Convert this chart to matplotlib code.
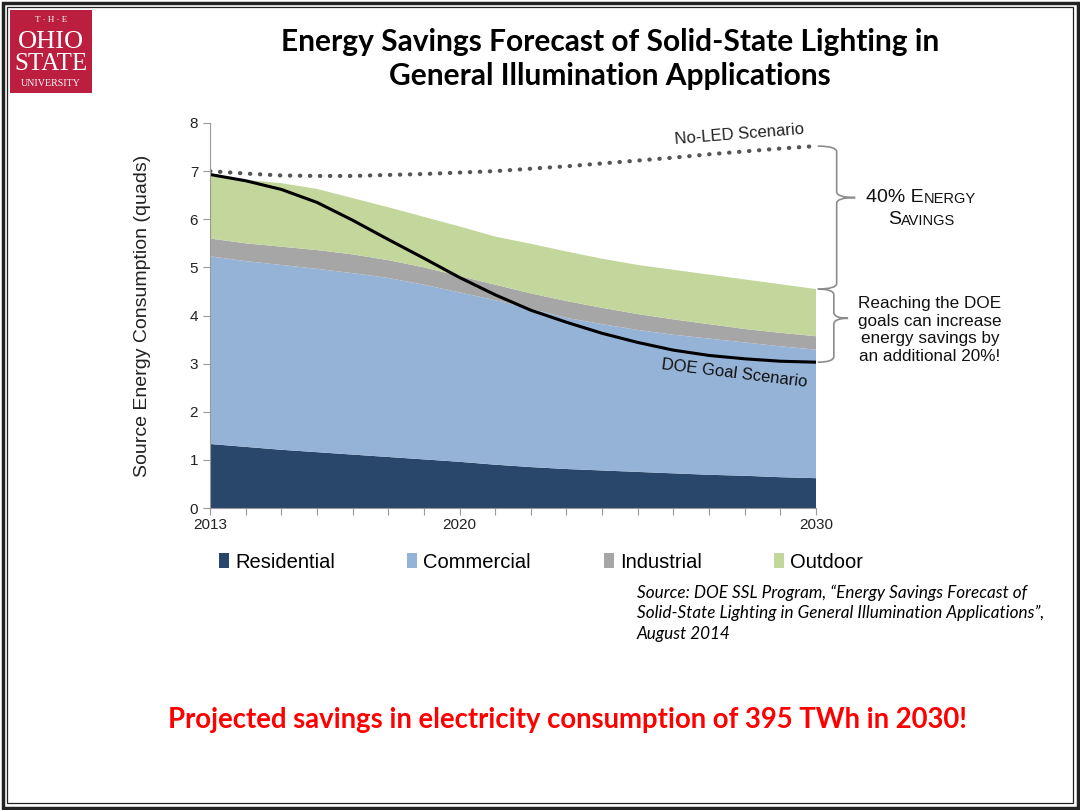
import numpy as np
import matplotlib.pyplot as plt
from matplotlib.patches import Rectangle, Patch, PathPatch
from matplotlib.path import Path

# data (quads), cumulative tops converted to layers below
years = list(range(2013, 2031))
residential = [1.33, 1.27, 1.21, 1.16, 1.11, 1.06, 1.01, 0.96, 0.90, 0.85,
               0.81, 0.78, 0.75, 0.72, 0.69, 0.67, 0.64, 0.62]
commercial_top = [5.23, 5.13, 5.05, 4.97, 4.88, 4.78, 4.64, 4.48, 4.32, 4.14,
                  3.95, 3.82, 3.70, 3.60, 3.52, 3.44, 3.36, 3.29]
industrial_top = [5.60, 5.50, 5.43, 5.36, 5.27, 5.15, 5.00, 4.82, 4.64, 4.46,
                  4.30, 4.16, 4.03, 3.92, 3.82, 3.72, 3.64, 3.57]
outdoor_top = [6.90, 6.82, 6.75, 6.63, 6.44, 6.25, 6.05, 5.85, 5.64, 5.49,
               5.33, 5.18, 5.05, 4.95, 4.85, 4.75, 4.65, 4.55]
no_led = [7.00, 6.95, 6.91, 6.90, 6.90, 6.92, 6.94, 6.97, 7.00, 7.05,
          7.10, 7.16, 7.22, 7.28, 7.35, 7.41, 7.47, 7.52]
doe_goal = [6.93, 6.80, 6.62, 6.35, 5.98, 5.58, 5.19, 4.79, 4.43, 4.11,
            3.86, 3.63, 3.44, 3.28, 3.17, 3.10, 3.05, 3.03]

sectors = ['Residential', 'Commercial', 'Industrial', 'Outdoor']
colors = ['#28476B', '#95B3D7', '#A6A6A6', '#C3D69B']
xlabels = {2013: '2013', 2020: '2020', 2030: '2030'}

res = np.array(residential)
com = np.array(commercial_top) - res
ind = np.array(industrial_top) - np.array(commercial_top)
out = np.array(outdoor_top) - np.array(industrial_top)

W, H = 1080, 810
fig = plt.figure(figsize=(10.8, 8.1), dpi=100)
sans = 'Liberation Sans'

def px(x, y):
    return x / W, 1 - y / H

# slide frame
fig.patches.append(Rectangle(px(2.5, 807.5), 1075 / W, 805 / H, transform=fig.transFigure,
                             fill=False, lw=2.5, ec='#222222'))
fig.patches.append(Rectangle(px(7, 803), 1066 / W, 796 / H, transform=fig.transFigure,
                             fill=False, lw=0.9, ec='#222222'))

# logo
fig.patches.append(Rectangle(px(10, 93), 82 / W, 83 / H, transform=fig.transFigure,
                             fc='#BB1E3E', ec='none'))
serif = 'Liberation Serif'
fig.text(*px(51, 20), 'T · H · E', color='white', fontsize=6.5, family=serif,
         ha='center', va='center')
fig.text(*px(51, 42), 'OHIO', color='white', fontsize=19, family=serif,
         ha='center', va='center')
fig.text(*px(51, 64.5), 'STATE', color='white', fontsize=18, family=serif,
         ha='center', va='center')
fig.text(*px(51, 83), 'UNIVERSITY', color='white', fontsize=7.2, family=serif,
         ha='center', va='center')

# title
fig.text(*px(610, 59), 'Energy Savings Forecast of Solid-State Lighting in\nGeneral Illumination Applications',
         ha='center', va='center', fontsize=21.5, fontweight='bold', family='Lato',
         linespacing=1.3, color='black')

ax = fig.add_axes([210 / W, 1 - 508 / H, 606 / W, 385 / H])
ax.stackplot(years, res, com, ind, out, colors=colors, lw=0)
ax.plot(years, no_led, ls=(0, (0.1, 2.3)), lw=3.0, color='#555555',
        dash_capstyle='round')
ax.plot(years, doe_goal, color='black', lw=2.2)

ax.set_xlim(2013, 2030)
ax.set_ylim(0, 8)
ax.set_xticks(years)
ax.set_xticklabels([xlabels.get(y, '') for y in years])
ax.set_yticks(range(0, 9))
for s in ['top', 'right']:
    ax.spines[s].set_visible(False)
for s in ['left', 'bottom']:
    ax.spines[s].set_color('#999999')
ax.tick_params(axis='both', colors='#999999', labelcolor='#222222', length=5,
               labelsize=11)
for lab in ax.get_xticklabels() + ax.get_yticklabels():
    lab.set_family(sans)
ax.tick_params(axis='x', pad=2)
ax.set_ylabel('Source Energy Consumption (quads)', fontsize=14,
              family=sans, labelpad=28, color='#222222')

# scenario labels
ax.text(2027.85, 7.77, 'No-LED Scenario', rotation=4.5, ha='center', va='center',
        fontsize=12, family=sans, color='#222222')
ax.text(2027.7, 2.8, 'DOE Goal Scenario', rotation=-7, ha='center', va='center',
        fontsize=12, family=sans, color='#111111')

def brace(x0, x1, xt, ytop, ybot, frac, r):
    ym = ybot + frac * (ytop - ybot)
    verts = [(x0, ytop), (x1, ytop), (x1, ytop - r),
             (x1, ym + r), (x1, ym), (xt, ym),
             (x1, ym), (x1, ym - r),
             (x1, ybot + r), (x1, ybot), (x0, ybot)]
    codes = [Path.MOVETO, Path.CURVE3, Path.CURVE3,
             Path.LINETO, Path.CURVE3, Path.CURVE3,
             Path.CURVE3, Path.CURVE3,
             Path.LINETO, Path.CURVE3, Path.CURVE3]
    ax.add_patch(PathPatch(Path(verts, codes), fill=False, ec='#8C8C8C', lw=1.2,
                           clip_on=False))

brace(2030.05, 2030.58, 2031.1, no_led[-1], outdoor_top[-1], 0.64, 0.12)
brace(2030.05, 2030.5, 2030.9, outdoor_top[-1], doe_goal[-1], 0.6, 0.12)

# small caps "40% ENERGY SAVINGS"
big, small = 14, 10.5

def after(prev, s, size):
    return ax.annotate(s, xy=(1, 0), xycoords=prev, xytext=(0, 0), textcoords='offset points',
                       fontsize=size, family=sans, va='bottom', ha='left',
                       annotation_clip=False, color='#111111')

t1 = fig.text(*px(866, 206), '40% E', fontsize=big, family=sans, va='bottom', color='#111111')
t2 = fig.text(*px(888, 228), 'S', fontsize=big, family=sans, va='bottom', color='#111111')
after(t1, 'NERGY', small)
after(t2, 'AVINGS', small)

fig.text(*px(930, 330), 'Reaching the DOE\ngoals can increase\nenergy savings by\nan additional 20%!',
         ha='center', va='center', fontsize=12.3, family=sans,
         linespacing=1.2, color='#111111')

# legend
handles = [Patch(fc=c, ec='none') for c in colors]
fig.legend(handles, sectors, loc='center', bbox_to_anchor=px(541, 562), ncol=4,
           frameon=False, handlelength=0.5, handleheight=0.7, handletextpad=0.3,
           columnspacing=3.6, prop={'family': sans, 'size': 14.5})

fig.text(*px(637, 613), 'Source: DOE SSL Program, \u201cEnergy Savings Forecast of\n'
         'Solid-State Lighting in General Illumination Applications\u201d,\nAugust 2014',
         ha='left', va='center', fontsize=12.3, family='Lato', style='italic',
         linespacing=1.35)

fig.text(*px(567, 720), 'Projected savings in electricity consumption of 395 TWh in 2030!',
         ha='center', va='center', fontsize=19.8, fontweight='bold', family='Lato',
         color='#FF0000')

fig.savefig('out.png', dpi=100)
